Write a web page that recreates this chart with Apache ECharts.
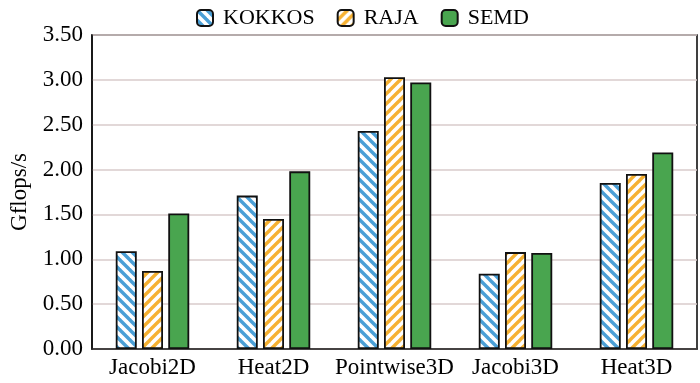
<!DOCTYPE html>
<html><head><meta charset="utf-8">
<script src="https://cdn.jsdelivr.net/npm/echarts@6/dist/echarts.min.js"></script>
<style>html,body{margin:0;padding:0;background:#fff}#c{width:700px;height:383px}</style>
</head><body><div id="c"></div>
<script>
const categories = ['Jacobi2D', 'Heat2D', 'Pointwise3D', 'Jacobi3D', 'Heat3D'];
const seriesNames = ['KOKKOS', 'RAJA', 'SEMD'];
const kokkos = [1.09, 1.71, 2.43, 0.84, 1.85];
const raja = [0.87, 1.45, 3.03, 1.08, 1.95];
const semd = [1.51, 1.98, 2.97, 1.07, 2.19];
const yTicks = { min: 0, max: 3.5, interval: 0.5 };

function stripe(color, dir) {
  const s = 10;
  const c = document.createElement('canvas');
  c.width = s; c.height = s;
  const g = c.getContext('2d');
  g.fillStyle = '#fff'; g.fillRect(0, 0, s, s);
  g.strokeStyle = color; g.lineWidth = 3.4; g.lineCap = 'square';
  for (let k = -1; k <= 1; k++) {
    g.beginPath();
    if (dir === 'back') { g.moveTo(k * s, 0); g.lineTo(k * s + s, s); }
    else { g.moveTo(k * s, s); g.lineTo(k * s + s, 0); }
    g.stroke();
  }
  return { image: c, repeat: 'repeat' };
}

const fills = [stripe('#4a9fd6', 'back'), stripe('#f6b132', 'fwd'), '#49a54f'];
const data = [kokkos, raja, semd];
const font = 'Liberation Serif';

const chart = echarts.init(document.getElementById('c'));
chart.setOption({
  animation: false,
  backgroundColor: '#fff',
  legend: {
    top: 2, left: 191,
    itemWidth: 16, itemHeight: 16, itemGap: 22,
    textStyle: { fontFamily: font, fontSize: 22, color: '#000', padding: [0, 0, 0, 5] },
    data: seriesNames
  },
  grid: { left: 92, right: 3, top: 35, bottom: 34, show: true, borderColor: '#111', borderWidth: 1.6 },
  xAxis: {
    type: 'category', data: categories,
    axisLine: { lineStyle: { color: '#222', width: 1.6 } },
    axisTick: { show: false },
    axisLabel: { interval: 0, fontFamily: font, fontSize: 23, color: '#000', margin: 7 }
  },
  yAxis: {
    type: 'value', min: yTicks.min, max: yTicks.max, interval: yTicks.interval,
    name: 'Gflops/s', nameLocation: 'middle', nameGap: 60,
    nameTextStyle: { fontFamily: font, fontSize: 23, color: '#000' },
    axisLine: { show: true, lineStyle: { color: '#111', width: 1.6 } },
    axisTick: { show: false },
    axisLabel: { fontFamily: font, fontSize: 23, color: '#000', margin: 9, formatter: v => v.toFixed(2) },
    splitLine: { lineStyle: { color: '#d8cbcb', width: 1.5 } }
  },
  series: seriesNames.map((n, i) => ({
    name: n, type: 'bar', data: data[i],
    barWidth: 21, barGap: '25%',
    itemStyle: { color: fills[i], borderColor: '#111', borderWidth: 1.8 }
  }))
});
</script></body></html>
